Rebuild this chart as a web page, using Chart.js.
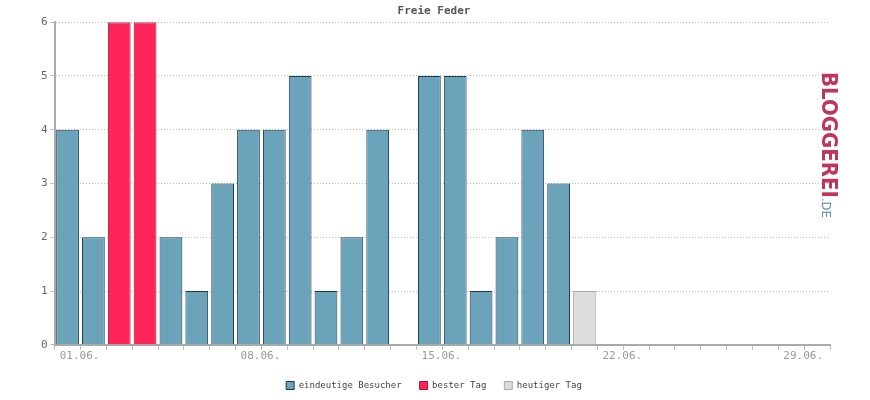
<!DOCTYPE html>
<html><head><meta charset="utf-8">
<script src="https://cdn.jsdelivr.net/npm/chart.js@4/dist/chart.umd.min.js"></script>
<style>
body{margin:0;background:#fff;}
#wrap{position:relative;width:870px;height:400px;}
#logo{position:absolute;left:842px;top:72px;transform-origin:left top;transform:rotate(90deg);
 font:bold 22px "DejaVu Sans Condensed","DejaVu Sans";color:#c0355a;letter-spacing:0px;white-space:nowrap;}
#logo span{font-size:13px;color:#5a8fb0;font-weight:normal;}
</style></head><body>
<div id="wrap"><canvas id="c" width="870" height="400"></canvas>
<div id="logo">BLOGGEREI<span>.DE</span></div></div>
<script>
// Visits per day, June
const days = Array.from({length: 30}, (_, i) => String(i + 1).padStart(2, '0') + '.06.');
const visitors = [4,2,0,0,2,1,3,4,4,5,1,2,4,0,5,5,1,2,4,3,0,0,0,0,0,0,0,0,0,0];
const bestDay  = [0,0,6,6,0,0,0,0,0,0,0,0,0,0,0,0,0,0,0,0,0,0,0,0,0,0,0,0,0,0];
const today    = [0,0,0,0,0,0,0,0,0,0,0,0,0,0,0,0,0,0,0,0,1,0,0,0,0,0,0,0,0,0];
const showLabels = ['01.06.','08.06.','15.06.','22.06.','29.06.'];

const mono = 'DejaVu Sans Mono';
new Chart(document.getElementById('c'), {
  type: 'bar',
  data: { labels: days, datasets: [
    { label: 'eindeutige Besucher', data: visitors, backgroundColor: '#6ba3bb', borderColor: '#1d3b4c', borderWidth: 1 },
    { label: 'bester Tag', data: bestDay, backgroundColor: '#ff2457', borderColor: '#9a1535', borderWidth: 1 },
    { label: 'heutiger Tag', data: today, backgroundColor: '#dcdcdc', borderColor: '#aaaaaa', borderWidth: 1 }
  ]},
  options: {
    responsive: false, animation: false,
    layout: { padding: { left: 38, right: 40, top: 0, bottom: 0 } },
    datasets: { bar: { categoryPercentage: 1, barPercentage: 0.88 } },
    plugins: {
      title: { display: true, text: 'Freie Feder', color: '#555', font: { family: mono, size: 11, weight: 'bold' }, padding: { top: 5, bottom: 4 } },
      legend: { position: 'bottom', labels: { boxWidth: 8, boxHeight: 8, color: '#444', font: { family: mono, size: 9 }, padding: 18 } },
      tooltip: { enabled: false }
    },
    scales: {
      x: { stacked: true,
        grid: { display: true, drawOnChartArea: false, color: '#bbb', tickLength: 5 },
        border: { color: '#aaa', width: 2 },
        ticks: { autoSkip: false, maxRotation: 0, color: '#999', font: { family: mono, size: 11 }, labelOffset: 12, padding: 0,
          callback: (v, i) => showLabels.includes(days[i]) ? days[i] : '' } },
      y: { stacked: true, min: 0, max: 6,
        grid: { color: '#bbb', tickLength: 4 },
        border: { color: '#aaa', width: 2, dash: [1, 2] },
        ticks: { stepSize: 1, color: '#666', font: { family: mono, size: 11 } } }
    }
  }
});
</script></body></html>
